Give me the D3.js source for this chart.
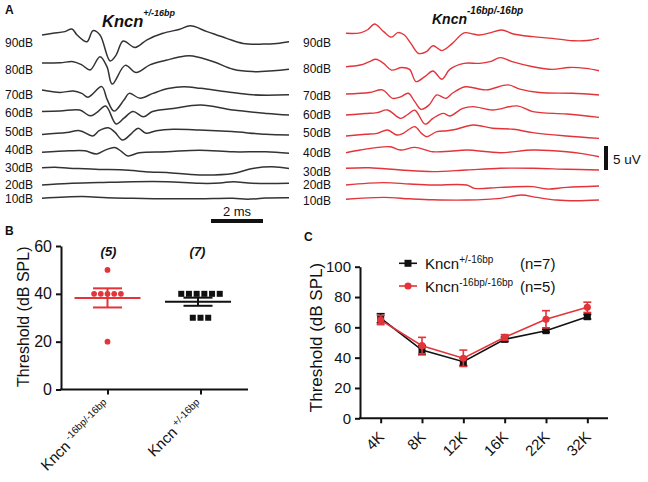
<!DOCTYPE html>
<html><head><meta charset="utf-8">
<script src="https://cdn.jsdelivr.net/npm/d3@7"></script>
<style>body{margin:0;background:#fff} svg text{font-family:"Liberation Sans",Arial,sans-serif;fill:#111}</style>
</head><body>
<svg id="c" width="648" height="482"></svg>
<script>
// ---------------- DATA ----------------
const levels = ["90dB","80dB","70dB","60dB","50dB","40dB","30dB","20dB","10dB"];
// trace baselines (uV, stacked)
const offsetsL = [36.46, 30.63, 25.0, 20.52, 15.73, 12.02, 8.81, 5.21, 2.44];
const offsetsR = [36.81, 29.85, 24.17, 19.79, 15.42, 11.94, 8.69, 5.21, 2.23];
const labelLevelL = [34.79, 29.27, 23.96, 20.21, 16.25, 12.5, 8.75, 5.31, 2.40];
const labelLevelR = [34.79, 29.38, 23.75, 19.79, 16.04, 11.88, 7.92, 5.21, 1.88];
// ABR traces: [time ms, amplitude uV]
const tracesL = [
 [[0,0],[0.42,0.35],[0.88,0.7],[1.15,1.25],[1.35,0],[1.73,-1.4],[1.96,0.9],[2.23,0],[2.62,-5.4],[2.85,-4.2],[3.12,-1.25],[3.58,-2.6],[4.04,-1],[4.65,0.35],[5.3,1.2],[5.7,1.9],[6.35,0.7],[7.1,-0.7],[7.73,-1.75],[8.5,-1.9],[9.04,-1.75],[9.5,-1.4]],
 [[0,0],[0.7,0.05],[1.2,0.27],[1.53,-0.4],[1.85,-1.45],[2.23,1.3],[2.5,-0.8],[2.7,-4.4],[3.2,-0.5],[3.62,-2.0],[4.15,-0.4],[4.8,0.6],[5.5,1.45],[5.8,1.45],[6.6,0.25],[7.35,-1.3],[8.1,-1.8],[8.9,-1.6],[9.5,-1.3]],
 [[0,0],[0.7,-0.5],[1.2,-0.2],[1.53,-0.7],[1.77,-1.5],[2.3,0.7],[2.5,-1.9],[2.77,-4.4],[3.15,-2.1],[3.35,-0.7],[3.77,-1.7],[4.27,-0.7],[4.85,0.3],[5.45,0.7],[6.1,0.35],[7.1,-0.35],[8.1,-1.0],[9.5,-1.0]],
 [[0,0],[0.7,0.1],[1.45,0.3],[1.85,-0.9],[2.1,-0.25],[2.45,1.15],[2.85,-2.6],[3.15,-1.4],[3.5,0],[3.9,-1.1],[4.25,0],[5.05,0.65],[6.1,1.35],[7.35,0.3],[8.65,-0.4],[9.5,-0.75]],
 [[0,0],[0.95,0.4],[1.45,0.8],[1.95,-0.3],[2.2,0.8],[2.55,1.4],[2.8,0.5],[3.1,-1.15],[3.45,0.25],[3.7,1.3],[4.0,0.25],[4.4,0.8],[5.05,1.1],[6.05,0.95],[7.3,0.6],[8.6,0.05],[9.5,-0.1]],
 [[0,0],[1.05,0.3],[1.65,0.3],[2.1,-0.35],[2.45,0.5],[2.8,1.0],[3.05,0.2],[3.3,-0.75],[3.75,-0.1],[4.8,0.1],[6.05,0.45],[7.35,0.1],[8.6,0.1],[9.5,-0.2]],
 [[0,0],[0.5,0.1],[1.05,-0.1],[1.65,-0.2],[2.2,-0.35],[3.0,-0.4],[3.5,-0.6],[4.15,-0.9],[4.8,-1.0],[6.05,-1.5],[7.35,-1.2],[8.1,-0.15],[8.85,0.2],[9.5,-0.15]],
 [[0,0],[1.0,0.3],[2.2,0.5],[3.5,0.7],[4.8,0.7],[6.05,0.35],[6.85,0.4],[7.35,0.7],[8.1,0.35],[9.5,0.35]],
 [[0,0],[1.55,0.35],[2.5,0.1],[3.5,0],[4.8,-0.1],[6.05,-0.1],[7.35,0],[7.9,-0.2],[8.6,0.05],[9.5,0.1]]
];
const tracesR = [
 [[0,0],[0.55,0.1],[0.85,0.8],[1.1,1.95],[1.45,0.35],[1.75,-0.8],[2.0,0.15],[2.25,-0.35],[2.5,-2.1],[2.8,-4.2],[3.1,-3.8],[3.35,-2.6],[3.7,-3.6],[4.1,-2.1],[4.55,0.1],[4.9,-0.15],[5.15,-0.35],[5.55,0.1],[6.0,0.7],[6.45,-0.15],[7.2,-0.7],[7.95,-1.05],[8.75,-1.55],[9.3,-1.5],[9.75,-1.05]],
 [[0,0],[0.55,0.35],[0.9,1.05],[1.15,1.55],[1.45,0.7],[1.75,-0.7],[2.15,-0.15],[2.45,-0.55],[2.7,-3.1],[3.05,-2.0],[3.35,-0.9],[3.7,-2.6],[4.0,-0.55],[4.55,0.7],[5.15,0.7],[5.55,1.05],[5.95,1.9],[6.4,1.05],[7.2,0],[7.95,-0.55],[8.6,-0.15],[9.25,-0.35],[9.75,-0.85]],
 [[0,0],[0.9,0.3],[1.4,0.85],[1.8,-0.9],[2.1,-0.6],[2.4,0.15],[2.65,-1.6],[2.9,-3.2],[3.2,-2.3],[3.5,-0.2],[3.85,-0.9],[4.1,0.15],[4.6,1.5],[5.4,0.85],[6.25,1.9],[6.7,1.0],[7.45,0.3],[8.7,0.15],[9.75,-0.2]],
 [[0,0],[0.75,0.3],[1.2,0.5],[1.6,1.05],[2.1,-0.7],[2.35,0],[2.65,1.0],[3.05,-1.9],[3.35,-0.7],[3.75,0.35],[4.0,-0.2],[4.5,1.4],[4.9,1.75],[5.65,1.05],[6.6,1.9],[7.2,0.7],[8.5,0.2],[9.75,-0.5]],
 [[0,0],[0.75,0.35],[1.2,0.55],[1.6,1.25],[1.95,0.2],[2.2,0.55],[2.65,1.95],[2.9,0.6],[3.1,-0.15],[3.5,0.9],[3.9,1.1],[4.25,1.4],[4.9,2.3],[5.65,1.6],[6.45,1.4],[7.2,0.7],[8.5,0],[9.75,-0.5]],
 [[0,0],[0.55,0.55],[1.1,1.0],[1.7,1.25],[2.1,0.55],[2.65,1.1],[3.35,0.2],[4.0,0.3],[4.65,0.55],[5.95,0],[7.2,0.55],[8.5,0.2],[9.1,-0.2],[9.75,-0.85]],
 [[0,0],[0.9,0.1],[2.1,-0.35],[3.35,-0.7],[4.65,-0.35],[5.95,0],[7.2,0],[8.5,-0.2],[9.75,-0.35]],
 [[0,0],[1.45,0.5],[2.45,0.2],[3.35,0],[4.65,0],[4.95,-0.7],[5.95,-0.5],[7.2,-0.35],[7.75,-0.85],[8.5,-0.5],[9.75,-0.2]],
 [[0,0],[1.45,0.4],[2.45,0.1],[3.35,-0.1],[4.65,-0.15],[5.95,0.2],[6.75,0.9],[7.35,0.4],[8.1,-0.15],[8.85,-0.3],[9.75,-0.15]]
];
const scaleMs = [6.5, 8.5];       // 2 ms bar
const scaleUv = 5;                // 5 uV bar

// Panel B
const groupsB = ["-16bp/-16bp", "+/-16bp"];
const nB = ["(5)", "(7)"];
const ptsRed = [50, 40, 40, 40, 40, 40, 20];
const ptsBlack = [40, 40, 40, 40, 40, 40, 30, 30, 30];
const meanB = [38.3, 36.7];
const semB = [4.0, 1.7];
const yTicksB = [0, 20, 40, 60];

// Panel C
const freqs = ["4K", "8K", "12K", "16K", "22K", "32K"];
const hetMean = [66, 45, 37.3, 52.1, 57.8, 67];
const hetSem  = [3, 3, 2.5, 1.5, 1, 1.5];
const homMean = [64.8, 47.9, 39.6, 53.4, 65.3, 73.2];
const homSem  = [3, 5.5, 5.4, 1.8, 5.7, 3.4];
const yTicksC = [0, 20, 40, 60, 80, 100];

// ---------------- DRAW ----------------
const RED = "#e3343a", DARK = "#333";
const svg = d3.select("#c");

function supText(sel, main, sup, mainSize, supSize, dy, weight, style, gap) {
  sel.style("font-size", mainSize + "px");
  if (weight) sel.style("font-weight", weight);
  if (style) sel.style("font-style", style);
  sel.append("tspan").text(main + (gap ? "\u00A0" : ""));
  sel.append("tspan").attr("dy", dy).style("font-size", supSize + "px").text(sup);
  return sel;
}

// Panel A
const xL = d3.scaleLinear().domain([0, 9.5]).range([42, 289]);
const xR = d3.scaleLinear().domain([0, 9.75]).range([346, 599]);
const yA = d3.scaleLinear().domain([0, 40]).range([210, 18]);
const mk = (xs, off) => d3.line().x(d => xs(d[0])).y(d => yA(off + d[1])).curve(d3.curveCatmullRom.alpha(0.5));

tracesL.forEach((tr, i) => svg.append("path").attr("d", mk(xL, offsetsL[i])(tr))
  .attr("fill", "none").attr("stroke", DARK).attr("stroke-width", 1.5).attr("stroke-linejoin", "round"));
tracesR.forEach((tr, i) => svg.append("path").attr("d", mk(xR, offsetsR[i])(tr))
  .attr("fill", "none").attr("stroke", RED).attr("stroke-width", 1.4).attr("stroke-linejoin", "round"));

levels.forEach((lv, i) => {
  svg.append("text").attr("x", 5).attr("y", yA(labelLevelL[i])).attr("dy", "0.35em").style("font-size", "12px").text(lv);
  svg.append("text").attr("x", 303).attr("y", yA(labelLevelR[i])).attr("dy", "0.35em").style("font-size", "12px").text(lv);
});

svg.append("text").attr("x", 5).attr("y", 14).style("font-size", "12px").style("font-weight", "bold").text("A");
supText(svg.append("text").attr("x", 102).attr("y", 26.5), "Kncn", "+/-16bp", 16.5, 9, -11, "bold", "italic");
supText(svg.append("text").attr("x", 432).attr("y", 23.5), "Kncn", "-16bp/-16bp", 14, 10, -10, "bold", "italic");

// 2 ms bar
svg.append("rect").attr("x", xL(scaleMs[0])).attr("width", xL(scaleMs[1]) - xL(scaleMs[0]))
  .attr("y", 219).attr("height", 4).attr("fill", "#111");
svg.append("text").attr("x", xL((scaleMs[0] + scaleMs[1]) / 2)).attr("y", 216).attr("text-anchor", "middle")
  .style("font-size", "13px").text("2 ms");
// 5 uV bar
const uvH = yA(0) - yA(scaleUv);
svg.append("rect").attr("x", 604).attr("width", 4).attr("y", 170 - uvH).attr("height", uvH).attr("fill", "#111");
svg.append("text").attr("x", 613).attr("y", 159.5).attr("dy", "0.35em").style("font-size", "13.5px").text("5 uV");

// Panel B
const yB = d3.scaleLinear().domain([0, 60]).range([389.5, 246]);
const xB = d3.scalePoint().domain([0, 1]).range([61, 247]).padding(0.5);
const gB = svg.append("g");
gB.append("g").attr("transform", "translate(61,0)")
  .call(d3.axisLeft(yB).tickValues(yTicksB).tickSize(5).tickSizeOuter(0).tickPadding(4))
  .call(g => { g.selectAll("path,line").attr("stroke", "#111").attr("stroke-width", 2);
               g.selectAll("text").style("font-size", "16px").attr("fill", "#111").style("font-family", "Liberation Sans, Arial"); });
gB.append("g").attr("transform", "translate(0,389.5)")
  .call(d3.axisBottom(xB).tickSize(5).tickSizeOuter(0).tickFormat(""))
  .call(g => { g.select("path").attr("d", "M60,0H248"); g.selectAll("path,line").attr("stroke", "#111").attr("stroke-width", 2); });

svg.append("text").attr("x", 5).attr("y", 235).style("font-size", "12px").style("font-weight", "bold").text("B");
svg.append("text").attr("transform", `translate(29,${yB(30) - 1}) rotate(-90)`).attr("text-anchor", "middle")
  .style("font-size", "16px").text("Threshold (dB SPL)");

function spread(vals, step) {
  const cnt = d3.rollup(vals, v => v.length, d => d), seen = new Map();
  return vals.map(v => { const n = cnt.get(v), j = seen.get(v) || 0; seen.set(v, j + 1); return { v, off: (j - (n - 1) / 2) * step }; });
}
// mean/sem lines
[[0, RED], [1, "#111"]].forEach(([i, col]) => {
  const cx = xB(i) - (i === 1 ? 2.5 : 0);
  gB.append("line").attr("x1", cx - 33).attr("x2", cx + 33).attr("y1", yB(meanB[i])).attr("y2", yB(meanB[i])).attr("stroke", col).attr("stroke-width", 2);
  gB.append("line").attr("x1", cx).attr("x2", cx).attr("y1", yB(meanB[i] - semB[i])).attr("y2", yB(meanB[i] + semB[i])).attr("stroke", col).attr("stroke-width", 2);
  [meanB[i] - semB[i], meanB[i] + semB[i]].forEach(v => gB.append("line").attr("x1", cx - 14.5).attr("x2", cx + 14.5)
     .attr("y1", yB(v)).attr("y2", yB(v)).attr("stroke", col).attr("stroke-width", 2));
});
spread(ptsRed, 6.7).forEach(p => gB.append("circle").attr("cx", xB(0) + p.off).attr("cy", yB(p.v)).attr("r", 2.9).attr("fill", RED));
spread(ptsBlack, 7.7).forEach(p => gB.append("rect").attr("x", xB(1) + p.off - 3).attr("y", yB(p.v) - 3).attr("width", 6).attr("height", 6).attr("fill", "#111"));
nB.forEach((t, i) => svg.append("text").attr("x", xB(i) + (i ? -3 : 1)).attr("y", 256).attr("text-anchor", "middle")
  .style("font-size", "13px").style("font-weight", "bold").style("font-style", "italic").text(t));
// rotated x labels: each piece is its own rotated text element
const c45 = Math.SQRT1_2;
groupsB.forEach((s, i) => {
  const ex = xB(i) + 4, ey = 407;
  const st = svg.append("text").attr("text-anchor", "end").style("font-size", "10px")
    .attr("transform", `translate(${ex - 6 * c45},${ey - 6 * c45}) rotate(-45)`).text(s);
  const w = st.node().getComputedTextLength() + 3;
  svg.append("text").attr("text-anchor", "end").style("font-size", "15px")
    .attr("transform", `translate(${ex - w * c45},${ey + w * c45}) rotate(-45)`).text("Kncn");
});

// Panel C
const xC = d3.scalePoint().domain(freqs).range([360, 608]).padding(0.5);
const yC = d3.scaleLinear().domain([0, 100]).range([418.3, 266.7]);
const gC = svg.append("g");
gC.append("g").attr("transform", "translate(360,0)")
  .call(d3.axisLeft(yC).tickValues(yTicksC).tickSize(5).tickSizeOuter(0).tickPadding(4))
  .call(g => { g.selectAll("path,line").attr("stroke", "#111").attr("stroke-width", 2);
               g.selectAll("text").style("font-size", "15px").attr("fill", "#111").style("font-family", "Liberation Sans, Arial"); });
gC.append("g").attr("transform", "translate(0,418.3)")
  .call(d3.axisBottom(xC).tickSize(5).tickSizeOuter(0).tickFormat(""))
  .call(g => { g.select("path").attr("d", "M359,0H608"); g.selectAll("path,line").attr("stroke", "#111").attr("stroke-width", 2); });
freqs.forEach(f => svg.append("text").attr("transform", `translate(${xC(f) + 4.5},438) rotate(-45)`).attr("text-anchor", "end")
  .style("font-size", "15px").text(f));
svg.append("text").attr("x", 304).attr("y", 241).style("font-size", "12px").style("font-weight", "bold").text("C");
svg.append("text").attr("transform", `translate(322,${yC(50) - 5}) rotate(-90)`).attr("text-anchor", "middle")
  .style("font-size", "17px").text("Threshold (dB SPL)");

function series(mean, sem, col, marker) {
  const ln = d3.line().x((d, i) => xC(freqs[i])).y(d => yC(d));
  gC.append("path").attr("d", ln(mean)).attr("fill", "none").attr("stroke", col).attr("stroke-width", 1.6);
  mean.forEach((m, i) => {
    const x = xC(freqs[i]);
    gC.append("line").attr("x1", x).attr("x2", x).attr("y1", yC(m - sem[i])).attr("y2", yC(m + sem[i])).attr("stroke", col).attr("stroke-width", 1.6);
    [m - sem[i], m + sem[i]].forEach(v => gC.append("line").attr("x1", x - 4).attr("x2", x + 4).attr("y1", yC(v)).attr("y2", yC(v)).attr("stroke", col).attr("stroke-width", 1.6));
    marker(gC, x, yC(m));
  });
}
const sq = (g, x, y) => g.append("rect").attr("x", x - 3.5).attr("y", y - 3.5).attr("width", 7).attr("height", 7).attr("fill", "#111");
const ci = (g, x, y) => g.append("circle").attr("cx", x).attr("cy", y).attr("r", 3.6).attr("fill", RED);
series(hetMean, hetSem, "#111", sq);
series(homMean, homSem, RED, ci);

// legend
[[263.3, "#111", sq, "+/-16bp", "(n=7)"], [286, RED, ci, "-16bp/-16bp", "(n=5)"]].forEach(([y, col, m, sup, n]) => {
  svg.append("line").attr("x1", 399).attr("x2", 417).attr("y1", y).attr("y2", y).attr("stroke", col).attr("stroke-width", 1.6);
  m(svg, 408, y);
  supText(svg.append("text").attr("x", 425).attr("y", y + 5.5), "Kncn", sup, 15, 10, -6);
  svg.append("text").attr("x", 520).attr("y", y + 5.5).style("font-size", "15px").text(n);
});
</script>
</body></html>
